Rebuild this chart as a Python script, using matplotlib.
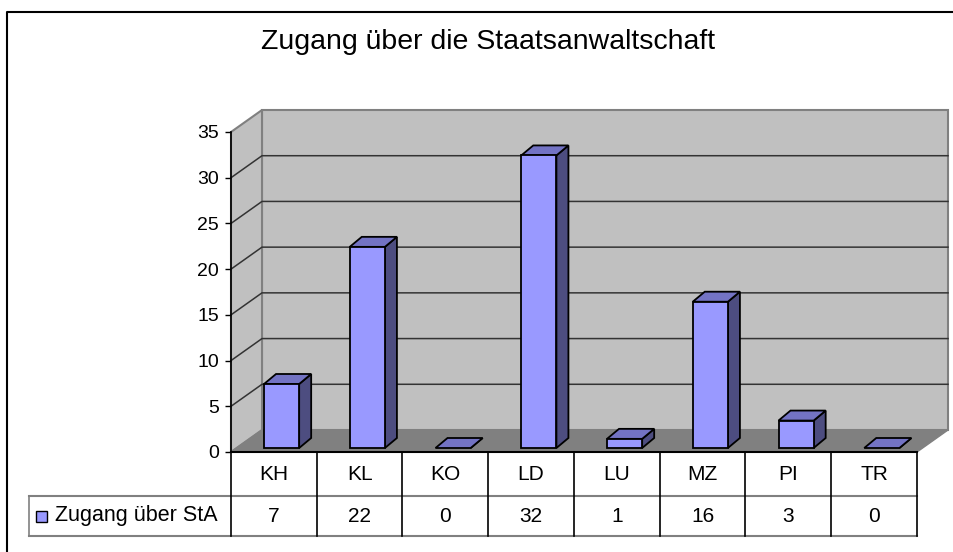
import matplotlib
matplotlib.use("Agg")
import matplotlib.pyplot as plt
from matplotlib.patches import Polygon, Rectangle
from matplotlib.lines import Line2D
from matplotlib.transforms import IdentityTransform

plt.rcParams["font.family"] = ["Liberation Sans", "DejaVu Sans"]

# --- data ---------------------------------------------------------------
title = "Zugang über die Staatsanwaltschaft"
series_name = "Zugang über StA"
categories = ["KH", "KL", "KO", "LD", "LU", "MZ", "PI", "TR"]
values = [7, 22, 0, 32, 1, 16, 3, 0]
yticks = [0, 5, 10, 15, 20, 25, 30, 35]

# --- layout (pixels) ----------------------------------------------------
W, H = 954, 552
DEPTH = (31, 22)          # wall depth offset (right, up)
BAR_FRONT = (0, 4)        # bar front face offset from floor front
BAR_BACK = (12, 14)       # bar back face offset
BAR_X0, BAR_W = 0.385, 0.41
ROW1, ROW2 = 44, 40       # table row heights
FACE, TOP, SIDE = "#9999FF", "#7373C4", "#4D4D80"
WALL, FLOOR, EDGE = "#C0C0C0", "#808080", "#808080"
FS_TICK, FS_TABLE = 14, 15


def fy(y):                # image row -> display y
    return H - y


fig = plt.figure(figsize=(W / 100, H / 100), dpi=100)
ax = fig.add_axes([231 / W, fy(452) / H, (917 - 231) / W, (452 - 132) / H])
ax.set_xlim(0, len(categories))
ax.set_ylim(yticks[0], yticks[-1])
ax.patch.set_visible(False)
for s in ("top", "right", "bottom"):
    ax.spines[s].set_visible(False)
ax.spines["left"].set_linewidth(1.2)
ax.spines["left"].set_zorder(6)
ax.set_xticks([])
ax.set_yticks(yticks)
ax.tick_params(axis="y", length=4.5, width=1, pad=4, labelsize=FS_TICK)

I = IdentityTransform()


def disp(x, y, off=(0, 0)):
    px, py = ax.transData.transform((x, y))
    return (px + off[0], py + off[1])


def poly(pts, **kw):
    ax.add_patch(Polygon(pts, closed=True, transform=I, clip_on=False, **kw))


def line(pts, **kw):
    xs, ys = zip(*pts)
    ax.add_line(Line2D(xs, ys, transform=I, clip_on=False, **kw))


n = len(categories)
top = yticks[-1]

# walls and floor
poly([disp(0, 0, DEPTH), disp(n, 0, DEPTH), disp(n, top, DEPTH), disp(0, top, DEPTH)],
     fc=WALL, ec=EDGE, lw=1.5, zorder=1)
poly([disp(0, 0), disp(0, 0, DEPTH), disp(0, top, DEPTH), disp(0, top)],
     fc=WALL, ec=EDGE, lw=1.5, zorder=1)
poly([disp(0, 0), disp(n, 0), disp(n, 0, DEPTH), disp(0, 0, DEPTH)],
     fc=FLOOR, ec=EDGE, lw=1, zorder=2)

# gridlines on side and back wall
for t in yticks[1:-1]:
    line([disp(0, t), disp(0, t, DEPTH), disp(n, t, DEPTH)], color="#333333", lw=1.1, zorder=2)

# 3d bars
for i, v in enumerate(values):
    x0 = i + BAR_X0
    x1 = x0 + BAR_W
    kw = dict(ec="black", lw=1.3, joinstyle="miter", zorder=4)
    poly([disp(x1, 0, BAR_FRONT), disp(x1, 0, BAR_BACK), disp(x1, v, BAR_BACK), disp(x1, v, BAR_FRONT)],
         fc=SIDE, **kw)
    poly([disp(x0, v, BAR_FRONT), disp(x1, v, BAR_FRONT), disp(x1, v, BAR_BACK), disp(x0, v, BAR_BACK)],
         fc=TOP, **kw)
    if v > 0:
        poly([disp(x0, 0, BAR_FRONT), disp(x1, 0, BAR_FRONT), disp(x1, v, BAR_FRONT), disp(x0, v, BAR_FRONT)],
             fc=FACE, **kw)

# data table
x_left, y_top = disp(0, 0)
x_right = disp(n, 0)[0]
y_mid = y_top - ROW1
y_bot = y_mid - ROW2
leg_left = 29
line([(x_left, y_top), (x_right, y_top)], color="black", lw=1.5, zorder=5)
line([(leg_left, y_mid), (x_right, y_mid)], color="#808080", lw=1.5, zorder=5)
line([(leg_left, y_bot), (x_right, y_bot)], color="#808080", lw=1.5, zorder=5)
line([(leg_left, y_mid), (leg_left, y_bot)], color="#808080", lw=1.2, zorder=5)
for i in range(n + 1):
    xb = disp(i, 0)[0]
    line([(xb, y_top), (xb, y_bot)], color="black", lw=1.2, zorder=6)
for i, (c, v) in enumerate(zip(categories, values)):
    xc = disp(i + 0.5, 0)[0]
    ax.text(xc, y_top - ROW1 / 2, c, transform=I, ha="center", va="center", fontsize=FS_TABLE)
    ax.text(xc, y_mid - ROW2 / 2, str(v), transform=I, ha="center", va="center", fontsize=FS_TABLE)

# legend key inside table
yc = y_mid - ROW2 / 2
ax.add_patch(Rectangle((36, yc - 5.5), 11, 11, transform=I, clip_on=False,
                       fc=FACE, ec="black", lw=1, zorder=6))
ax.text(55, yc, series_name, transform=I, ha="left", va="center", fontsize=15.5)

# title and chart border
fig.text(488 / W, fy(49) / H, title, ha="center", va="baseline", fontsize=20.5)
fig.add_artist(Line2D([7, 7, W + 5], [-5, fy(12), fy(12)], transform=I, color="black", lw=1.5))

fig.savefig("out.png", dpi=100, facecolor="white")
